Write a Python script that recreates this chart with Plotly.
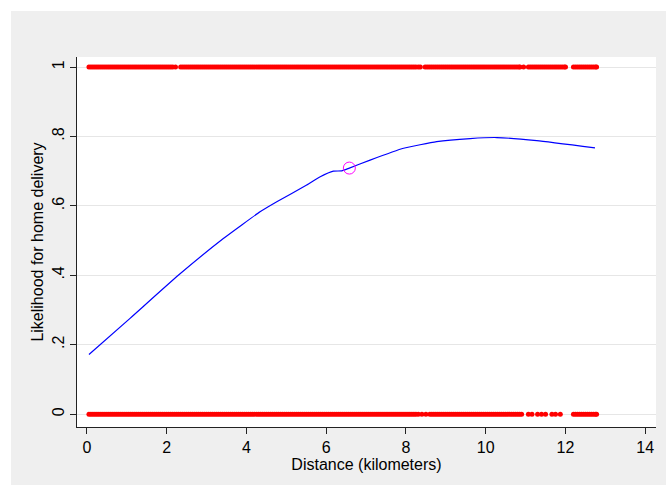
import plotly.graph_objects as go

# Observed deliveries (y=1) and non-deliveries (y=0) by distance (km)
dist_delivered = [
    0.05, 0.10, 0.15, 0.20, 0.25, 0.30, 0.35, 0.40, 0.45, 0.50, 0.55, 0.60, 0.65, 0.70, 0.75,
    0.80, 0.85, 0.90, 0.95, 1.00, 1.05, 1.10, 1.15, 1.20, 1.25, 1.30, 1.35, 1.40, 1.45, 1.50,
    1.55, 1.60, 1.65, 1.70, 1.75, 1.80, 1.85, 1.90, 1.95, 2.00, 2.05, 2.10, 2.15, 2.22,
    2.35, 2.40, 2.45, 2.50, 2.55, 2.60, 2.65, 2.70, 2.75, 2.80, 2.85, 2.90, 2.95, 3.00, 3.05,
    3.10, 3.15, 3.20, 3.25, 3.30, 3.35, 3.40, 3.45, 3.50, 3.55, 3.60, 3.65, 3.70, 3.75, 3.80,
    3.85, 3.90, 3.95, 4.00, 4.05, 4.10, 4.15, 4.20, 4.25, 4.30, 4.35, 4.40, 4.45, 4.50, 4.55,
    4.60, 4.65, 4.70, 4.75, 4.80, 4.85, 4.90, 4.95, 5.00, 5.05, 5.10, 5.15, 5.20, 5.25, 5.30,
    5.35, 5.40, 5.45, 5.50, 5.55, 5.60, 5.65, 5.70, 5.75, 5.80, 5.85, 5.90, 5.95, 6.00, 6.05,
    6.10, 6.15, 6.20, 6.25, 6.30, 6.35, 6.40, 6.45, 6.50, 6.55, 6.60, 6.65, 6.70, 6.75, 6.80,
    6.85, 6.90, 6.95, 7.00, 7.05, 7.10, 7.15, 7.20, 7.25, 7.30, 7.35, 7.40, 7.45, 7.50, 7.55,
    7.60, 7.65, 7.70, 7.75, 7.80, 7.85, 7.90, 7.95, 8.00, 8.05, 8.10, 8.15, 8.20, 8.25, 8.31,
    8.36,
    8.48, 8.53, 8.58, 8.63, 8.68, 8.73, 8.78, 8.83, 8.88, 8.93, 8.98, 9.03, 9.08, 9.13, 9.18,
    9.23, 9.28, 9.33, 9.38, 9.43, 9.48, 9.53, 9.58, 9.63, 9.68, 9.73, 9.78, 9.83, 9.88, 9.93,
    9.98, 10.03, 10.08, 10.13, 10.18, 10.23, 10.28, 10.33, 10.38, 10.43, 10.48, 10.53, 10.58,
    10.63, 10.68, 10.73, 10.78, 10.83, 10.86, 10.95,
    11.07, 11.12, 11.17, 11.22, 11.27, 11.32, 11.37, 11.42, 11.47, 11.52, 11.57, 11.62, 11.67,
    11.72, 11.77, 11.82, 11.87, 11.92, 11.97, 12.00,
    12.20, 12.25, 12.30, 12.35, 12.40, 12.45, 12.50, 12.55, 12.60, 12.65, 12.70, 12.75, 12.78,
]
dist_not_delivered = [
    0.05, 0.10, 0.15, 0.20, 0.25, 0.30, 0.35, 0.40, 0.45, 0.50, 0.55, 0.60, 0.65, 0.70, 0.75,
    0.80, 0.85, 0.90, 0.95, 1.00, 1.05, 1.10, 1.15, 1.20, 1.25, 1.30, 1.35, 1.40, 1.45, 1.50,
    1.55, 1.60, 1.65, 1.70, 1.75, 1.80, 1.85, 1.90, 1.95, 2.00, 2.05, 2.10, 2.15, 2.20, 2.25,
    2.30, 2.35, 2.40, 2.45, 2.50, 2.55, 2.60, 2.65, 2.70, 2.75, 2.80, 2.85, 2.90, 2.95, 3.00,
    3.05, 3.10, 3.15, 3.20, 3.25, 3.30, 3.35, 3.40, 3.45, 3.50, 3.55, 3.60, 3.65, 3.70, 3.75,
    3.80, 3.85, 3.90, 3.95, 4.00, 4.05, 4.10, 4.15, 4.20, 4.25, 4.30, 4.35, 4.40, 4.45, 4.50,
    4.55, 4.60, 4.65, 4.70, 4.75, 4.80, 4.85, 4.90, 4.95, 5.00, 5.05, 5.10, 5.15, 5.20, 5.25,
    5.30, 5.35, 5.40, 5.45, 5.50, 5.55, 5.60, 5.65, 5.70, 5.75, 5.80, 5.85, 5.90, 5.95, 6.00,
    6.05, 6.10, 6.15, 6.20, 6.25, 6.30, 6.35, 6.40, 6.45, 6.50, 6.55, 6.60, 6.65, 6.70, 6.75,
    6.80, 6.85, 6.90, 6.95, 7.00, 7.05, 7.10, 7.15, 7.20, 7.25, 7.30, 7.35, 7.40, 7.45, 7.50,
    7.55, 7.60, 7.65, 7.70, 7.75, 7.80, 7.85, 7.90, 7.95, 8.00, 8.05, 8.10, 8.15, 8.20, 8.25,
    8.31,
    8.40, 8.50,
    8.60, 8.65, 8.70, 8.75, 8.80, 8.85, 8.90, 8.95, 9.00, 9.05, 9.10, 9.15, 9.20, 9.25, 9.30,
    9.35, 9.40, 9.45, 9.50, 9.55, 9.60, 9.65, 9.70, 9.75, 9.80, 9.85, 9.90, 9.95, 10.00, 10.05,
    10.10, 10.15, 10.20, 10.25, 10.30, 10.35, 10.40, 10.45, 10.50, 10.55, 10.60, 10.65, 10.70,
    10.75, 10.80, 10.85, 10.90,
    11.07, 11.16, 11.30, 11.40, 11.50, 11.66, 11.75, 11.87,
    12.20, 12.25, 12.30, 12.35, 12.40, 12.45, 12.50, 12.55, 12.60, 12.65, 12.70, 12.75, 12.78,
]

# Fitted likelihood curve
fit_x = [0.05, 1.08, 2.29, 3.42, 4.34, 4.76, 5.51, 5.85, 6.18, 6.39, 6.58, 7.10, 7.94, 8.77,
         9.61, 10.28, 11.28, 12.74]
fit_y = [0.172, 0.276, 0.40, 0.506, 0.583, 0.612, 0.66, 0.684, 0.70, 0.701, 0.709, 0.732,
         0.766, 0.785, 0.794, 0.797, 0.788, 0.767]

# Highlighted point
mark_x = [6.58]
mark_y = [0.709]

y_ticks = [0, 0.2, 0.4, 0.6, 0.8, 1]
y_tick_labels = ["0", ".2", ".4", ".6", ".8", "1"]
x_ticks = [0, 2, 4, 6, 8, 10, 12, 14]

fig = go.Figure()
fig.add_trace(go.Scatter(x=dist_delivered, y=[1] * len(dist_delivered), mode="markers",
                         marker=dict(color="#FF0000", size=5), hoverinfo="x"))
fig.add_trace(go.Scatter(x=dist_not_delivered, y=[0] * len(dist_not_delivered), mode="markers",
                         marker=dict(color="#FF0000", size=5), hoverinfo="x"))
fig.add_trace(go.Scatter(x=fit_x, y=fit_y, mode="lines",
                         line=dict(color="#0000FF", width=1.2, shape="spline", smoothing=0.4)))
fig.add_trace(go.Scatter(x=mark_x, y=mark_y, mode="markers",
                         marker=dict(symbol="circle-open", size=12, color="#FF00FF",
                                     line=dict(width=1))))

font = "Liberation Sans, Arial, Helvetica, sans-serif"
fig.update_layout(
    width=666, height=485, autosize=False,
    margin=dict(l=77, r=10, t=57, b=58),
    paper_bgcolor="#EFEFEF", plot_bgcolor="#FFFFFF",
    showlegend=False,
    font=dict(family=font, size=16, color="#000000"),
    xaxis=dict(range=[-0.25, 14.27], tickvals=x_ticks, ticks="outside", ticklen=6,
               tickcolor="#222222", showgrid=False, zeroline=False, showline=True,
               linecolor="#222222", linewidth=1,
               title=dict(text="Distance (kilometers)", font=dict(size=16), standoff=1),
               tickfont=dict(size=16)),
    yaxis=dict(range=[-0.037, 1.029], tickvals=y_ticks, ticktext=y_tick_labels,
               ticks="outside", ticklen=6, tickcolor="#222222", tickangle=-90,
               showgrid=True, gridcolor="#E6E6E6", gridwidth=1, zeroline=False,
               showline=True, linecolor="#222222", linewidth=1,
               title=dict(text="Likelihood for home delivery", font=dict(size=16), standoff=1),
               tickfont=dict(size=16)),
    shapes=[
        dict(type="rect", xref="paper", yref="paper", x0=-0.2, x1=(11 - 77) / 579,
             y0=-0.3, y1=1.3, fillcolor="#FFFFFF", line=dict(width=0), layer="below"),
        dict(type="rect", xref="paper", yref="paper", x0=-0.2, x1=1.2,
             y0=(427 - 11) / 370, y1=1.3, fillcolor="#FFFFFF", line=dict(width=0), layer="below"),
    ],
)

fig.write_html("out.html", config={"displayModeBar": False},
               post_script="document.body.style.margin='0';")
